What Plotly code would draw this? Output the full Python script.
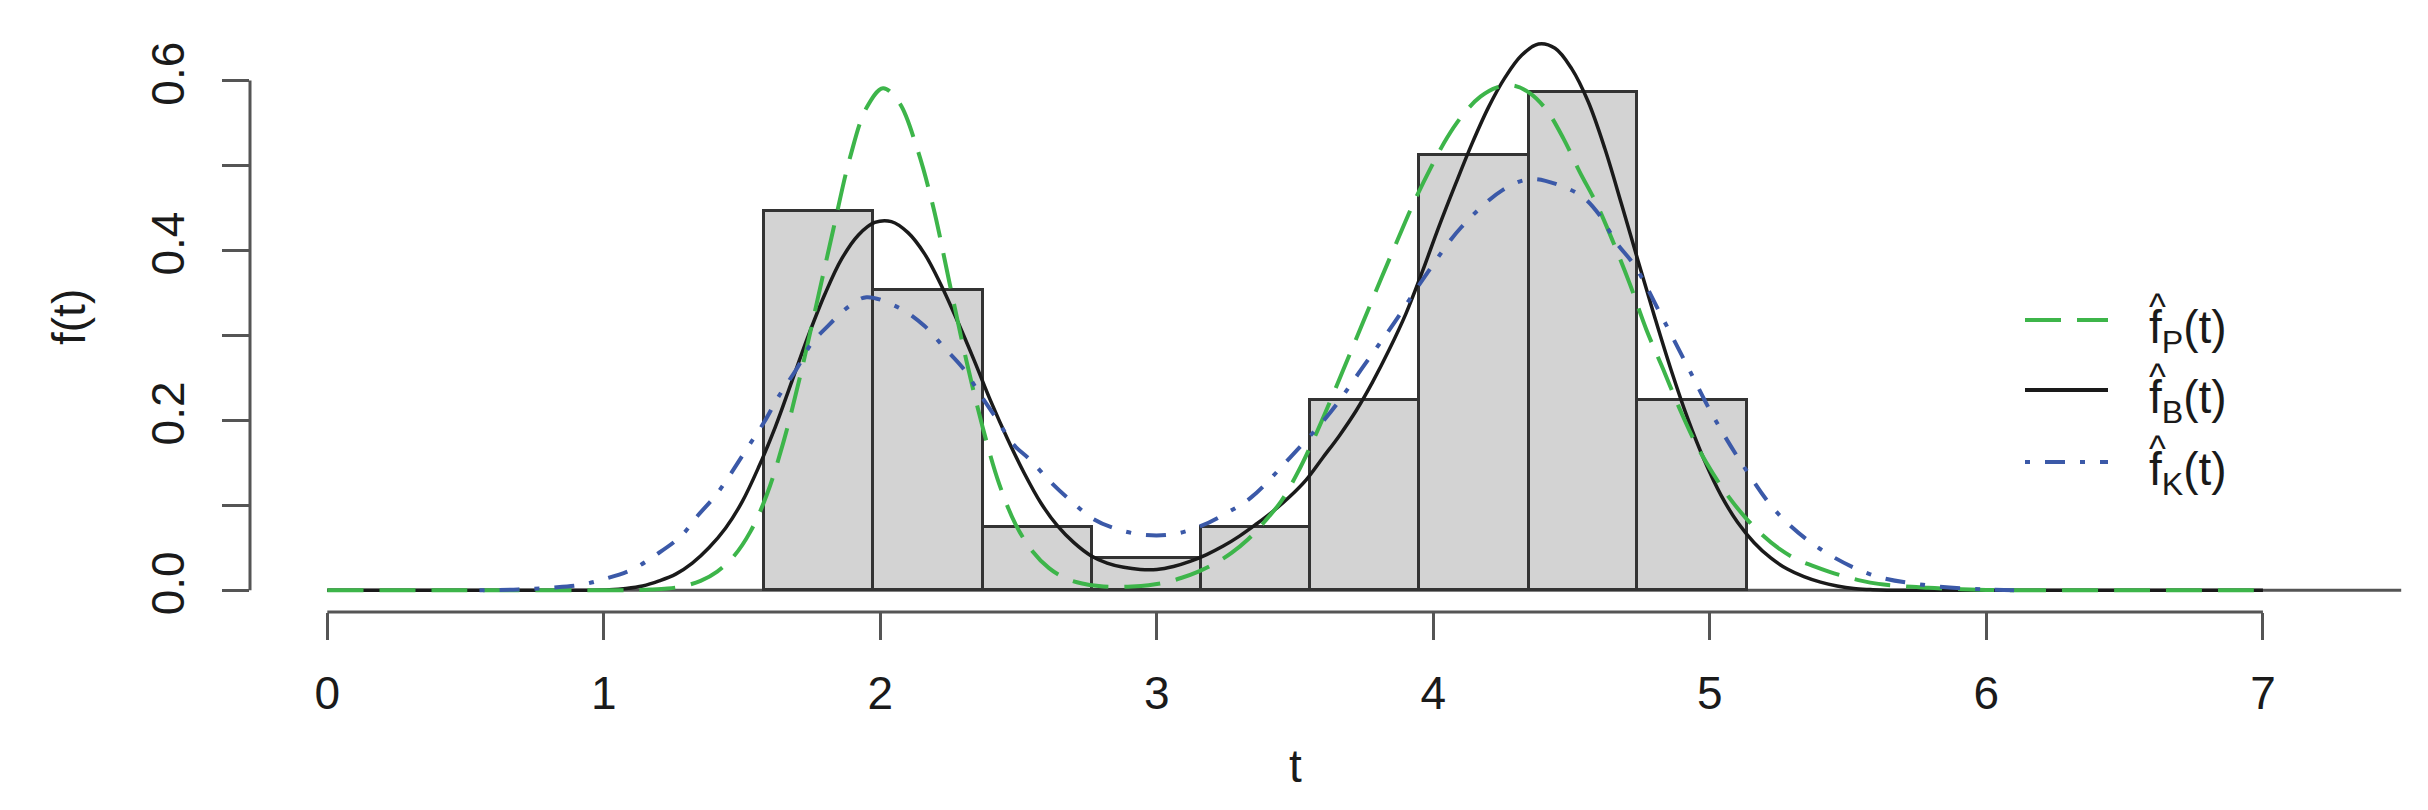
import plotly.graph_objects as go

# ---------------- data ----------------
bin_edges = [1.580, 1.975, 2.370, 2.764, 3.159, 3.554, 3.949, 4.344, 4.738, 5.133]
bin_density = [0.447, 0.354, 0.075, 0.038, 0.075, 0.224, 0.512, 0.587, 0.224]

# f_B(t) (black, solid)
tB = [0.0, 0.5, 0.9, 0.96, 1.02, 1.08, 1.14, 1.20, 1.26, 1.32, 1.38, 1.44, 1.50, 1.56, 1.62, 1.68,
      1.74, 1.80, 1.86, 1.92, 1.98, 2.04, 2.10, 2.16, 2.22, 2.28, 2.34, 2.40, 2.46, 2.52, 2.58,
      2.64, 2.70, 2.76, 2.82, 2.88, 2.94, 3.00, 3.06, 3.12, 3.18, 3.24, 3.30, 3.36, 3.42, 3.48,
      3.54, 3.60, 3.66, 3.72, 3.78, 3.84, 3.90, 3.96, 4.02, 4.08, 4.14, 4.20, 4.26, 4.32, 4.38,
      4.44, 4.50, 4.56, 4.62, 4.68, 4.74, 4.80, 4.86, 4.92, 4.98, 5.04, 5.10, 5.16, 5.22, 5.28,
      5.34, 5.40, 5.46, 5.52, 5.58, 5.64, 5.80, 6.5, 7.0]
fB = [0.0, 0.0, 0.0, 0.0, 0.0005, 0.002, 0.005, 0.011, 0.019, 0.032, 0.050, 0.073, 0.104, 0.145, 0.192, 0.246,
      0.300, 0.349, 0.390, 0.418, 0.433, 0.434, 0.421, 0.396, 0.359, 0.316, 0.270, 0.222, 0.178, 0.138, 0.103,
      0.076, 0.056, 0.041, 0.032, 0.027, 0.0245, 0.0245, 0.028, 0.034, 0.042, 0.052, 0.064, 0.078, 0.093, 0.110,
      0.130, 0.156, 0.182, 0.211, 0.245, 0.283, 0.325, 0.375, 0.428, 0.478, 0.526, 0.569, 0.604, 0.630, 0.643,
      0.638, 0.614, 0.575, 0.520, 0.455, 0.388, 0.322, 0.259, 0.202, 0.153, 0.112, 0.080, 0.056, 0.038, 0.025,
      0.016, 0.0095, 0.005, 0.002, 0.0008, 0.0, 0.0, 0.0, 0.0]

# f_P(t) (green, dashed)
tP = [0.0, 0.5, 0.9, 1.05, 1.11, 1.17, 1.23, 1.29, 1.35, 1.41, 1.47, 1.53, 1.59, 1.65, 1.71, 1.77,
      1.83, 1.89, 1.95, 2.01, 2.07, 2.13, 2.19, 2.25, 2.31, 2.37, 2.43, 2.49, 2.55, 2.61, 2.67,
      2.73, 2.79, 2.85, 2.91, 2.97, 3.03, 3.09, 3.15, 3.21, 3.27, 3.33, 3.39, 3.45, 3.51, 3.57,
      3.63, 3.69, 3.75, 3.81, 3.87, 3.93, 3.99, 4.05, 4.11, 4.17, 4.23, 4.29, 4.35, 4.41, 4.47,
      4.53, 4.59, 4.65, 4.71, 4.77, 4.83, 4.89, 4.95, 5.01, 5.07, 5.13, 5.19, 5.25, 5.31, 5.37,
      5.43, 5.49, 5.55, 5.61, 5.67, 5.73, 5.79, 5.85, 5.91, 5.97, 6.03, 6.09, 6.5, 7.0]
fP = [0.0, 0.0, 0.0, 0.0001, 0.0003, 0.0008, 0.002, 0.005, 0.011, 0.022, 0.040, 0.069, 0.113, 0.175, 0.252, 0.338,
      0.425, 0.509, 0.568, 0.591, 0.573, 0.523, 0.453, 0.362, 0.272, 0.192, 0.125, 0.077, 0.046, 0.026, 0.014,
      0.008, 0.005, 0.004, 0.0045, 0.006, 0.009, 0.0147, 0.022, 0.0316, 0.044, 0.060, 0.081, 0.105, 0.139, 0.180,
      0.225, 0.272, 0.319, 0.366, 0.412, 0.457, 0.497, 0.533, 0.561, 0.581, 0.592, 0.594, 0.585, 0.565, 0.532,
      0.492, 0.455, 0.410, 0.361, 0.307, 0.261, 0.214, 0.172, 0.138, 0.109, 0.085, 0.065, 0.049, 0.037, 0.029,
      0.022, 0.016, 0.011, 0.0075, 0.0055, 0.004, 0.003, 0.002, 0.0012, 0.0006, 0.0003, 0.0, 0.0, 0.0]

# f_K(t) (blue, dot-dash)
tK = [0.55, 0.69, 0.81, 0.91, 1.00, 1.10, 1.19, 1.28, 1.34, 1.41, 1.52, 1.58, 1.63, 1.70, 1.75, 1.81,
      1.89, 1.95, 2.07, 2.16, 2.23, 2.30, 2.36, 2.42, 2.48, 2.54, 2.62, 2.69, 2.77, 2.86, 2.96, 3.06,
      3.16, 3.25, 3.34, 3.48, 3.63, 3.75, 3.86, 3.98, 4.10, 4.25, 4.35, 4.45, 4.54, 4.60, 4.66, 4.73,
      4.82, 4.92, 5.01, 5.12, 5.24, 5.39, 5.58, 5.77, 5.99, 6.10]
fK = [0.0, 0.001, 0.003, 0.006, 0.013, 0.024, 0.042, 0.064, 0.088, 0.114, 0.168, 0.198, 0.227, 0.262, 0.290, 0.311,
      0.335, 0.345, 0.332, 0.311, 0.286, 0.261, 0.231, 0.202, 0.172, 0.154, 0.126, 0.105, 0.084, 0.0715, 0.065, 0.066,
      0.0757, 0.0905, 0.109, 0.1556, 0.2104, 0.265, 0.3157, 0.3746, 0.427, 0.471, 0.484, 0.4775, 0.463, 0.442, 0.410, 0.381,
      0.326, 0.263, 0.206, 0.147, 0.0925, 0.0506, 0.0188, 0.0064, 0.001, 0.0]

x_ticks = [0, 1, 2, 3, 4, 5, 6, 7]
y_ticks = [0.0, 0.2, 0.4, 0.6]
y_ticktext = ["0.0", "0.2", "0.4", "0.6"]
y_minor_ticks = [0.1, 0.3, 0.5]

# ---------------- styling ----------------
FONT = "Liberation Sans, Arial, Helvetica, sans-serif"
TXT = "#1a1a1a"
AX = "#555555"
GREEN = "#3db54a"
BLACK = "#1a1a1a"
BLUE = "#3b59a8"
FS = 46

W, H = 2428, 810
ML, MR, MT, MB = 250, 8, 16, 198
XR = [-0.2796, 7.568]
YR = [-0.0256, 0.676]

centers = [(a + b) / 2 for a, b in zip(bin_edges[:-1], bin_edges[1:])]
widths = [b - a for a, b in zip(bin_edges[:-1], bin_edges[1:])]

fig = go.Figure()
fig.add_trace(go.Bar(x=centers, y=bin_density, width=widths,
                     marker=dict(color="#d3d3d3", line=dict(color="#333333", width=3)),
                     showlegend=False, hoverinfo="skip"))
fig.add_trace(go.Scatter(x=tB, y=fB, mode="lines", showlegend=False,
                         line=dict(color=BLACK, width=3.5, shape="spline", smoothing=1.0)))
fig.add_trace(go.Scatter(x=tP, y=fP, mode="lines", showlegend=False,
                         line=dict(color=GREEN, width=4, dash="36px,16px", shape="spline", smoothing=1.0)))
fig.add_trace(go.Scatter(x=tK, y=fK, mode="lines", showlegend=False,
                         line=dict(color=BLUE, width=4, dash="5px,15px,20px,15px", shape="spline", smoothing=1.0)))

shapes = []
shapes.append(dict(type="line", xref="x", yref="y", x0=0, x1=7.5, y0=0, y1=0,
                   line=dict(color=AX, width=3), layer="below"))
shapes.append(dict(type="line", xref="x", yref="paper", x0=0, x1=7, y0=0, y1=0,
                   line=dict(color=AX, width=3)))
shapes.append(dict(type="line", xref="paper", yref="y", x0=0, x1=0, y0=0, y1=0.6,
                   line=dict(color=AX, width=3)))

PW = W - ML - MR
PH = H - MT - MB
def px(xp):
    return (xp - ML) / PW
def py(yp):
    return (H - MB - yp) / PH

legend_items = [("P", GREEN, "36px,16px", 320),
                ("B", BLACK, "solid", 390),
                ("K", BLUE, "5px,15px,20px,15px", 462)]
annotations = []
for sub, col, dash, ypix in legend_items:
    shapes.append(dict(type="line", xref="paper", yref="paper",
                       x0=px(2025), x1=px(2108), y0=py(ypix), y1=py(ypix),
                       line=dict(color=col, width=4, dash=dash)))
    annotations.append(dict(xref="paper", yref="paper", x=px(2147), y=py(ypix + 10),
                            xanchor="left", yanchor="middle", showarrow=False,
                            text="f<sub>%s</sub>(t)" % sub,
                            font=dict(family=FONT, size=FS, color=TXT)))
    annotations.append(dict(xref="paper", yref="paper", x=px(2157), y=py(ypix - 14),
                            xanchor="center", yanchor="middle", showarrow=False,
                            text="^", font=dict(family=FONT, size=36, color=TXT)))

annotations.append(dict(xref="x", yref="paper", x=3.5, y=py(766), xanchor="center", yanchor="middle",
                        showarrow=False, text="t", font=dict(family=FONT, size=FS, color=TXT)))
annotations.append(dict(xref="paper", yref="paper", x=px(69), y=py(317), xanchor="center", yanchor="middle",
                        showarrow=False, text="f(t)", textangle=-90,
                        font=dict(family=FONT, size=FS, color=TXT)))

fig.update_layout(
    width=W, height=H,
    margin=dict(l=ML, r=MR, t=MT, b=MB, pad=0),
    paper_bgcolor="white", plot_bgcolor="white",
    shapes=shapes, annotations=annotations,
    bargap=0,
    xaxis=dict(range=XR, tickvals=x_ticks, ticktext=[str(v) for v in x_ticks],
               ticks="outside", ticklen=27, tickwidth=3, tickcolor=AX,
               showline=False, showgrid=False, zeroline=False,
               tickfont=dict(family=FONT, size=FS, color=TXT), ticklabelstandoff=14),
    yaxis=dict(range=YR, tickvals=y_ticks, ticktext=y_ticktext, tickangle=-90,
               ticks="outside", ticklen=27, tickwidth=3, tickcolor=AX,
               minor=dict(tickvals=y_minor_ticks, ticks="outside", ticklen=27, tickwidth=3,
                          tickcolor=AX, showgrid=False),
               showline=False, showgrid=False, zeroline=False,
               tickfont=dict(family=FONT, size=FS, color=TXT), ticklabelstandoff=20),
)

fig.write_html("out.html",
               config={"displayModeBar": False},
               post_script="document.body.style.margin='0';document.body.style.overflow='hidden';")
